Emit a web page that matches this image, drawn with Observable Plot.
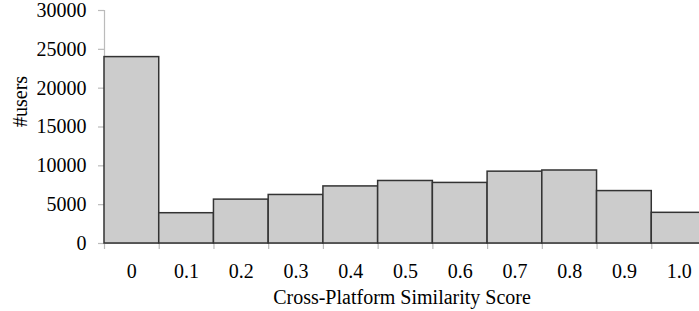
<!DOCTYPE html>
<html>
<head>
<meta charset="utf-8">
<script src="https://cdn.jsdelivr.net/npm/d3@7"></script>
<script src="https://cdn.jsdelivr.net/npm/@observablehq/plot@0.6"></script>
<style>
  html, body { margin: 0; padding: 0; background: #fff; overflow: hidden; }
  #chart svg, #chart svg text { font-family: "Liberation Serif", "Times New Roman", serif !important; }
</style>
</head>
<body>
<div id="chart"></div>
<script>
const categories = ["0", "0.1", "0.2", "0.3", "0.4", "0.5", "0.6", "0.7", "0.8", "0.9", "1.0"];
const users = [24000, 3900, 5650, 6250, 7350, 8050, 7800, 9250, 9400, 6750, 3950];
const yTicks = [0, 5000, 10000, 15000, 20000, 25000, 30000];
const binWidth = 0.1;
const xTitle = "Cross-Platform Similarity Score";
const yTitle = "#users";

const data = categories.map((c, i) => ({label: c, s: +c, v: users[i]}));
const centers = data.map(d => d.s);
const edges = [...centers.map(s => s - binWidth / 2), centers[centers.length - 1] + binWidth / 2];
const xDomain = [edges[0], edges[edges.length - 1]];
const serif = "Liberation Serif";

const plot = Plot.plot({
  width: 699,
  height: 311,
  marginTop: 10,
  marginBottom: 68,
  marginLeft: 104,
  marginRight: 0,
  style: {fontFamily: serif, fontSize: "20px", color: "#000", background: "#fff"},
  x: {domain: xDomain, range: [104, 706]},
  y: {domain: [0, 30000]},
  marks: [
    Plot.ruleY([0], {stroke: "#bbb", strokeWidth: 1.2}),
    Plot.ruleX([xDomain[0]], {y1: 0, y2: 30000, stroke: "#bbb", strokeWidth: 1.2}),
    Plot.axisX(edges, {tickSize: 6, stroke: "#bbb", strokeWidth: 1.2, tickFormat: () => "", label: null}),
    Plot.axisX(centers, {tickSize: 0, tickPadding: 20, tickFormat: (d, i) => categories[i], fill: "#000", fontFamily: serif, label: null}),
    Plot.axisY(yTicks, {tickSize: 6, tickPadding: 12, stroke: "#bbb", strokeWidth: 1.2, fill: "#000", fontFamily: serif, label: null, tickFormat: d => String(d)}),
    Plot.rectY(data, {x1: d => d.s - binWidth / 2, x2: d => d.s + binWidth / 2, y: "v", fill: "#cccccc", stroke: "#333", strokeWidth: 1.5}),
    Plot.text([xTitle], {frameAnchor: "bottom", dy: 54.5, fill: "#000", fontSize: 20, fontFamily: serif, lineAnchor: "middle", text: d => d}),
    Plot.text([yTitle], {frameAnchor: "left", dx: -84, rotate: -90, fill: "#000", fontSize: 20, fontFamily: serif, lineAnchor: "middle", text: d => d})
  ]
});
document.getElementById("chart").appendChild(plot);
</script>
</body>
</html>
